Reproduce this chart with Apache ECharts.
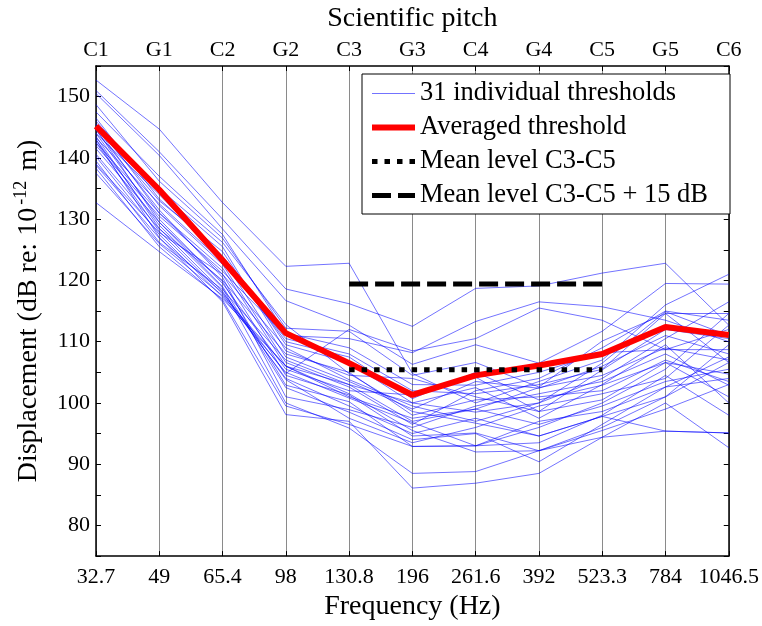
<!DOCTYPE html>
<html><head><meta charset="utf-8">
<script src="https://cdn.jsdelivr.net/npm/echarts@6/dist/echarts.min.js"></script>
<style>html,body{margin:0;padding:0;background:#fff}#c{width:762px;height:626px}</style>
</head><body><div id="c"></div>
<script>
const frequencies = ['32.7','49','65.4','98','130.8','196','261.6','392','523.3','784','1046.5'];
const pitches = ['C1','G1','C2','G2','C3','G3','C4','G4','C5','G5','C6'];
const averagedThreshold = [145.2, 134.8, 123.3, 111.4, 106.5, 101.3, 104.5, 106.1, 108.0, 112.4, 111.1];
const meanLevelC3C5 = [null, null, null, null, 105.4, 105.4, 105.4, 105.4, 105.4, null, null];
const meanLevelPlus15 = [null, null, null, null, 119.4, 119.4, 119.4, 119.4, 119.4, null, null];
const individualThresholds = [
  [152.7, 144.7, 132.7, 122.3, 122.8, 104.8, 100.0, 103.5, 107.0, 116.0, 121.0],
  [151.0, 141.0, 130.0, 118.6, 116.2, 112.5, 118.7, 119.1, 121.2, 122.8, 112.7],
  [150.5, 140.4, 128.4, 116.7, 112.7, 106.3, 109.5, 106.5, 111.7, 119.5, 119.4],
  [148.7, 136.2, 126.9, 112.2, 111.7, 104.5, 106.6, 102.6, 110.1, 114.6, 114.6],
  [147.5, 137.0, 127.5, 111.4, 109.0, 103.0, 102.9, 105.0, 108.2, 108.7, 108.7],
  [146.5, 133.3, 124.0, 110.0, 107.5, 100.7, 105.0, 100.5, 102.9, 106.6, 104.7],
  [146.0, 134.5, 125.5, 108.5, 104.5, 104.0, 101.0, 98.6, 105.4, 112.0, 110.5],
  [145.5, 135.0, 126.2, 112.8, 104.8, 98.6, 96.7, 94.6, 97.8, 101.0, 106.6],
  [145.5, 132.2, 122.6, 106.6, 102.6, 96.5, 102.0, 104.0, 109.0, 115.0, 113.5],
  [145.0, 131.0, 121.0, 104.5, 101.3, 94.6, 95.1, 92.2, 94.4, 95.4, 95.1],
  [145.0, 133.0, 124.7, 109.5, 106.6, 100.0, 98.5, 100.0, 104.0, 110.5, 116.5],
  [144.7, 129.5, 119.8, 102.9, 100.2, 92.9, 93.0, 97.0, 98.6, 102.6, 104.0],
  [144.5, 131.5, 120.5, 101.0, 98.9, 96.0, 99.5, 101.5, 103.5, 108.0, 102.9],
  [144.0, 134.0, 123.5, 107.5, 103.5, 99.0, 103.5, 102.4, 106.0, 111.0, 108.0],
  [144.0, 130.0, 119.5, 105.5, 102.0, 101.3, 104.2, 98.6, 100.5, 106.6, 101.0],
  [143.5, 128.5, 118.2, 103.8, 97.5, 93.5, 96.0, 99.5, 101.5, 104.0, 112.7],
  [143.3, 132.5, 123.0, 110.5, 108.0, 102.0, 101.5, 103.0, 105.5, 114.6, 106.6],
  [143.0, 129.0, 118.8, 100.0, 95.9, 88.5, 88.8, 92.2, 96.0, 101.0, 109.5],
  [143.0, 127.0, 116.5, 98.1, 97.0, 86.1, 86.9, 88.5, 94.4, 100.0, 92.7],
  [142.5, 131.0, 122.0, 106.0, 101.0, 97.5, 99.0, 96.5, 99.5, 103.5, 105.5],
  [142.5, 128.0, 117.8, 104.0, 99.5, 95.0, 97.5, 94.6, 97.8, 95.4, 95.1],
  [142.0, 130.5, 121.5, 111.0, 110.5, 108.2, 113.3, 116.5, 115.7, 113.5, 110.0],
  [141.5, 129.5, 119.0, 102.5, 98.5, 94.0, 95.0, 90.4, 96.5, 102.6, 107.5],
  [140.6, 128.4, 120.0, 108.0, 105.0, 98.0, 100.5, 101.0, 102.0, 107.0, 103.5],
  [140.2, 127.5, 117.3, 105.0, 100.8, 96.8, 93.0, 96.0, 100.0, 105.5, 114.6],
  [139.5, 126.2, 118.5, 107.0, 103.0, 100.0, 102.5, 97.5, 103.0, 109.5, 100.0],
  [139.0, 127.8, 121.0, 109.0, 103.8, 99.5, 97.0, 100.0, 106.5, 114.9, 111.0],
  [138.8, 126.9, 118.0, 104.8, 112.0, 108.5, 110.5, 115.5, 113.5, 108.7, 112.0],
  [138.3, 125.5, 116.8, 99.5, 96.5, 92.9, 93.0, 93.5, 98.0, 104.5, 98.0],
  [137.5, 126.0, 117.5, 106.0, 101.5, 95.5, 92.0, 92.2, 95.5, 99.0, 103.0],
  [132.7, 124.7, 117.0, 106.0, 103.0, 97.0, 99.0, 102.5, 104.5, 109.0, 107.0]
];
const legendNames = ['31 individual thresholds', 'Averaged threshold', 'Mean level C3-C5', 'Mean level C3-C5 + 15 dB'];

const serif = 'Liberation Serif';
const blue = 'rgba(0,0,255,0.55)';
const dotDash = [5.5, 7];
const longDash = [19, 7];
const chart = echarts.init(document.getElementById('c'), null, {renderer: 'canvas'});
const series = individualThresholds.map(vals => ({
  name: legendNames[0], type: 'line', data: vals, symbol: 'none', silent: true, z: 2,
  color: blue, lineStyle: {width: 1, color: blue}
}));
series.push({name: legendNames[1], type: 'line', data: averagedThreshold, symbol: 'none', z: 3,
  color: '#ff0000', lineStyle: {width: 6, color: '#ff0000'}});
series.push({name: legendNames[2], type: 'line', data: meanLevelC3C5, symbol: 'none', z: 4,
  color: '#000', lineStyle: {width: 5, color: '#000', type: dotDash, cap: 'butt'}});
series.push({name: legendNames[3], type: 'line', data: meanLevelPlus15, symbol: 'none', z: 4,
  color: '#000', lineStyle: {width: 5, color: '#000', type: longDash, cap: 'butt'}});

const hidden = {color: 'rgba(0,0,0,0)', borderWidth: 0, opacity: 0};
const tickStyle = {show: true, inside: true, length: 5, lineStyle: {color: '#000', width: 1}};
chart.setOption({
  backgroundColor: '#fff',
  animation: false,
  grid: {left: 96, right: 32, top: 66, bottom: 58, containLabel: false},
  legend: {
    data: [
      {name: legendNames[0], itemStyle: hidden, lineStyle: {width: 1, color: blue, type: 'solid'}},
      {name: legendNames[1], itemStyle: hidden, lineStyle: {width: 6, color: '#ff0000', type: 'solid'}},
      {name: legendNames[2], itemStyle: hidden, lineStyle: {width: 5, color: '#000', type: dotDash, cap: 'butt'}},
      {name: legendNames[3], itemStyle: hidden, lineStyle: {width: 5, color: '#000', type: longDash, cap: 'butt'}}
    ],
    orient: 'vertical', left: 362, top: 74,
    padding: [6, 22, 5, 7], itemGap: 7, itemWidth: 43, itemHeight: 14,
    itemStyle: hidden,
    backgroundColor: '#fff', borderColor: '#000', borderWidth: 1, borderRadius: 0,
    textStyle: {fontFamily: serif, fontSize: 26.5, color: '#000', lineHeight: 27},
    selectedMode: false
  },
  xAxis: [
    {type: 'category', data: frequencies, boundaryGap: false, position: 'bottom',
     name: 'Frequency (Hz)', nameLocation: 'middle', nameGap: 25,
     nameTextStyle: {fontFamily: serif, fontSize: 28, color: '#000', verticalAlign: 'top'},
     axisLine: {lineStyle: {color: '#000', width: 1.5}}, axisTick: tickStyle,
     axisLabel: {fontFamily: serif, fontSize: 22, color: '#000', margin: 10, interval: 0},
     splitLine: {show: true, lineStyle: {color: '#8a8a8a', width: 1}}},
    {type: 'category', data: pitches, boundaryGap: false, position: 'top',
     name: 'Scientific pitch', nameLocation: 'middle', nameGap: 33,
     nameTextStyle: {fontFamily: serif, fontSize: 28, color: '#000'},
     axisLine: {lineStyle: {color: '#000', width: 1.5}}, axisTick: tickStyle,
     axisLabel: {fontFamily: serif, fontSize: 22, color: '#000', margin: 5, interval: 0},
     splitLine: {show: false}}
  ],
  yAxis: [
    {type: 'value', min: 75, max: 155, interval: 5, position: 'left',
     name: 'Displacement (dB re: 10{sup|-12} m)', nameLocation: 'middle', nameGap: 36,
     nameTextStyle: {fontFamily: serif, fontSize: 28, color: '#000', lineHeight: 34,
       rich: {sup: {fontFamily: serif, fontSize: 18, color: '#000', lineHeight: 18, verticalAlign: 'top', padding: [0, 3, 0, 3]}}},
     axisLine: {show: true, lineStyle: {color: '#000', width: 1.5}}, axisTick: tickStyle,
     axisLabel: {fontFamily: serif, fontSize: 22, color: '#000', margin: 6,
       formatter: v => (v % 10 === 0 && v >= 80 && v <= 150) ? String(v) : ''},
     splitLine: {show: false}},
    {type: 'value', min: 75, max: 155, interval: 5, position: 'right',
     axisLine: {show: true, lineStyle: {color: '#000', width: 1.5}}, axisTick: tickStyle,
     axisLabel: {show: false}, splitLine: {show: false}}
  ],
  series: series
});
</script></body></html>
